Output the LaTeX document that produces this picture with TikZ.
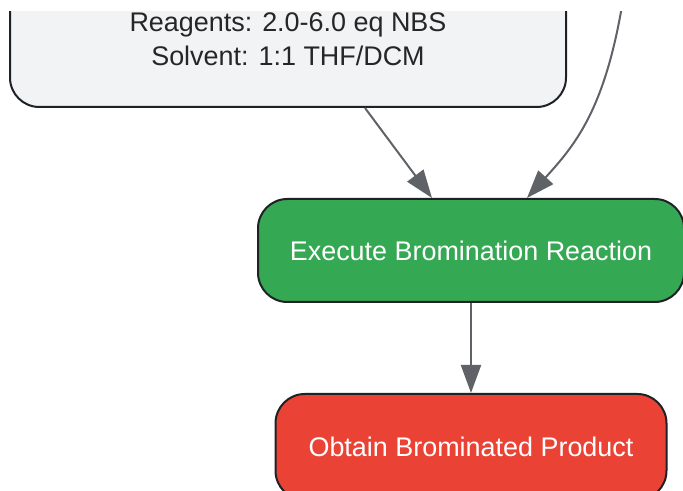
\documentclass[tikz,border=0pt]{standalone}
\usepackage{fontspec}
\setmainfont{Liberation Sans}
\usetikzlibrary{arrows.meta, positioning, calc}
\definecolor{boxgrey}{HTML}{F1F3F4}
\definecolor{boxline}{HTML}{202124}
\definecolor{arrgrey}{HTML}{5F6368}
\definecolor{goodgreen}{HTML}{34A853}
\definecolor{badred}{HTML}{EA4335}
\begin{document}
\begin{tikzpicture}[x=0.75pt, y=-0.75pt,
        every node/.style={font=\fontsize{20.2}{25.5}\selectfont},
        stage/.style={draw=boxline, line width=1.5pt, rounded corners=22pt, align=center},
        arr/.style={draw=arrgrey, line width=1.5pt, -{Triangle[length=21pt, width=15pt]}}]
                \useasboundingbox (0,0) rectangle (683,491);
                \clip (0,12) rectangle (684,491);
                \node[stage, fill=boxgrey, minimum width=556*0.75pt, minimum height=170*0.75pt] (cond) at (288,22) {};
                \node[align=center, text=black!85] (condtxt) at (288,39) {Reagents: 2.0-6.0 eq NBS\\Solvent: 1:1 THF/DCM};
                \node[stage, fill=goodgreen, text=white, minimum width=426*0.75pt, minimum height=103*0.75pt] (exec) at (471,250.5) {Execute Bromination Reaction};
                \node[stage, fill=badred, text=white, minimum width=391*0.75pt, minimum height=106*0.75pt, below=90*0.75pt of exec] (prod) {Obtain Brominated Product};
                \coordinate (src) at (623,0);
                \draw[arr] ($(cond.south)+(77,0)$) -- ($(exec.north)+(-39,0)$);
                \draw[arr] (src) .. controls (605,110) and (575,145) .. ($(exec.north)+(56,0)$);
                \draw[arr] (exec) -- (prod);
        \end{tikzpicture}
\end{document}
